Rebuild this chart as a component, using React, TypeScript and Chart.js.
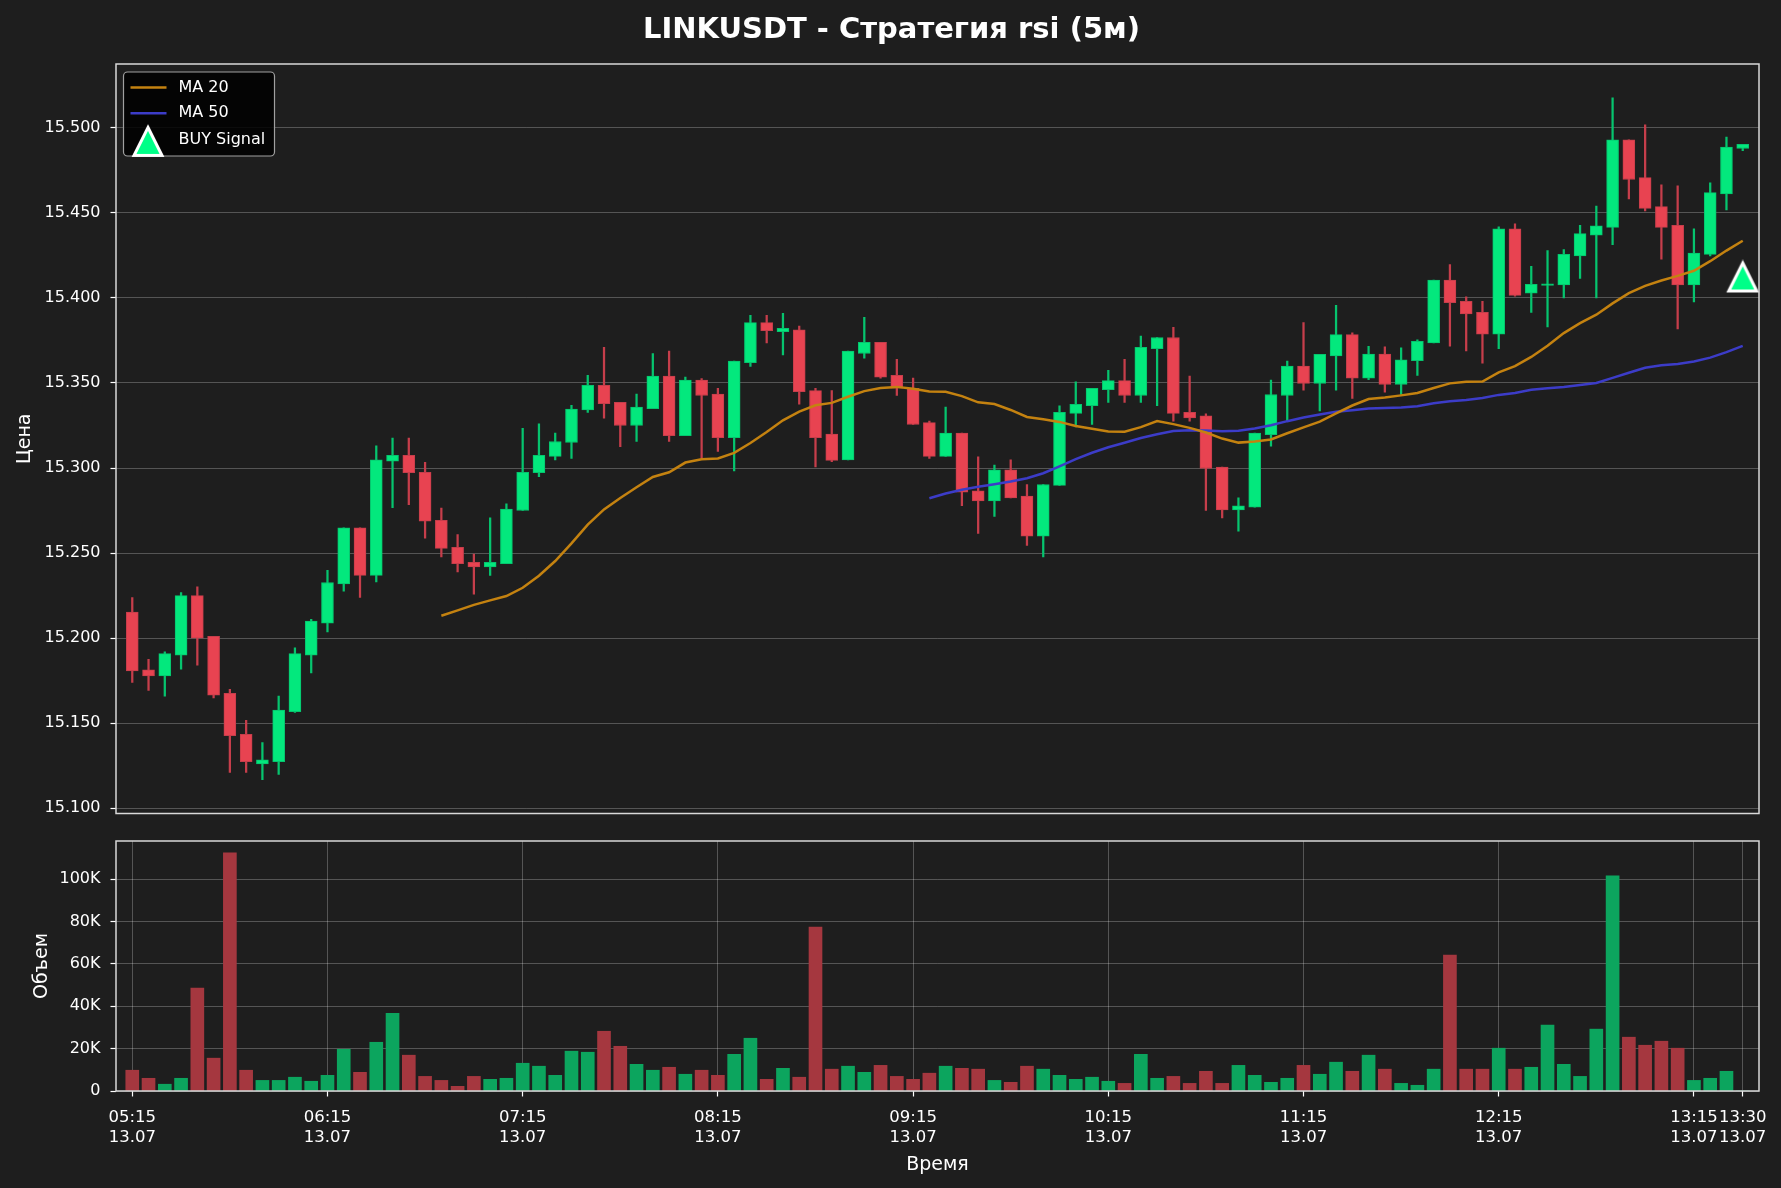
import React, { useEffect, useRef } from 'react';
import { Chart, registerables } from 'chart.js';

Chart.register(...registerables);

const FONT = "'DejaVu Sans', 'Liberation Sans', sans-serif";
const TITLE = 'LINKUSDT - Стратегия rsi (5м)';

// ---- data (5-minute candles, 05:15 .. 13:30) ----
const opens = [
  15.2153, 15.1813, 15.1778, 15.1900, 15.2250, 15.2011, 15.1676, 15.1435, 15.1261, 15.1273,
  15.1568, 15.1900, 15.2088, 15.2318, 15.2648, 15.2369, 15.3040, 15.3074, 15.2974, 15.2693,
  15.2534, 15.2446, 15.2418, 15.2438, 15.2750, 15.2972, 15.3068, 15.3150, 15.3341, 15.3486,
  15.3386, 15.3250, 15.3349, 15.3540, 15.3190, 15.3517, 15.3435, 15.3179, 15.3619, 15.3855,
  15.3801, 15.3813, 15.3455, 15.3199, 15.3048, 15.3673, 15.3739, 15.3545, 15.3469, 15.3267,
  15.3068, 15.3205, 15.2866, 15.2807, 15.2989, 15.2835, 15.2599, 15.2898, 15.3321, 15.3366,
  15.3460, 15.3514, 15.3426, 15.3702, 15.3767, 15.3327, 15.3307, 15.3006, 15.2753, 15.2770,
  15.3196, 15.3426, 15.3599, 15.3497, 15.3659, 15.3784, 15.3528, 15.3670, 15.3491, 15.3631,
  15.3736, 15.4105, 15.3980, 15.3915, 15.3787, 15.4406, 15.4028, 15.4074, 15.4077, 15.4247,
  15.4369, 15.4415, 15.4929, 15.4707, 15.4537, 15.4426, 15.4077, 15.4256, 15.4611, 15.4878,
];
const highs = [
  15.2239, 15.1875, 15.1920, 15.2267, 15.2301, 15.2011, 15.1699, 15.1517, 15.1386, 15.1659,
  15.1943, 15.2111, 15.2398, 15.2648, 15.2648, 15.3131, 15.3176, 15.3176, 15.3034, 15.2764,
  15.2608, 15.2494, 15.2707, 15.2790, 15.3233, 15.3259, 15.3205, 15.3369, 15.3545, 15.3710,
  15.3386, 15.3435, 15.3673, 15.3688, 15.3534, 15.3526, 15.3469, 15.3628, 15.3898, 15.3898,
  15.3909, 15.3835, 15.3469, 15.3455, 15.3688, 15.3886, 15.3739, 15.3639, 15.3528, 15.3276,
  15.3358, 15.3205, 15.3065, 15.3017, 15.3048, 15.2903, 15.2903, 15.3366, 15.3506, 15.3469,
  15.3574, 15.3639, 15.3776, 15.3767, 15.3827, 15.3540, 15.3318, 15.3006, 15.2824, 15.3205,
  15.3517, 15.3628, 15.3855, 15.3668, 15.3957, 15.3795, 15.3716, 15.3713, 15.3707, 15.3753,
  15.4105, 15.4196, 15.4006, 15.3980, 15.4418, 15.4435, 15.4185, 15.4278, 15.4284, 15.4426,
  15.4540, 15.5176, 15.4929, 15.5017, 15.4665, 15.4659, 15.4406, 15.4676, 15.4946, 15.4903,
];
const lows = [
  15.1739, 15.1693, 15.1659, 15.1818, 15.1841, 15.1648, 15.1210, 15.1210, 15.1168, 15.1199,
  15.1563, 15.1795, 15.2037, 15.2276, 15.2239, 15.2330, 15.2767, 15.2784, 15.2588, 15.2477,
  15.2389, 15.2259, 15.2369, 15.2438, 15.2750, 15.2949, 15.3048, 15.3057, 15.3327, 15.3293,
  15.3125, 15.3156, 15.3349, 15.3156, 15.3190, 15.3057, 15.3097, 15.2983, 15.3597, 15.3736,
  15.3665, 15.3375, 15.3006, 15.3037, 15.3048, 15.3645, 15.3528, 15.3426, 15.3256, 15.3057,
  15.3068, 15.2778, 15.2616, 15.2716, 15.2824, 15.2545, 15.2477, 15.2898, 15.3241, 15.3256,
  15.3386, 15.3386, 15.3386, 15.3366, 15.3276, 15.3276, 15.2750, 15.2707, 15.2628, 15.2770,
  15.3128, 15.3276, 15.3457, 15.3335, 15.3457, 15.3409, 15.3520, 15.3446, 15.3432, 15.3545,
  15.3736, 15.3716, 15.3688, 15.3616, 15.3702, 15.4010, 15.3915, 15.3830, 15.4000, 15.4114,
  15.4000, 15.4313, 15.4582, 15.4511, 15.4227, 15.3818, 15.3977, 15.4247, 15.4517, 15.4866,
];
const closes = [
  15.1807, 15.1778, 15.1909, 15.2250, 15.2000, 15.1665, 15.1426, 15.1273, 15.1284, 15.1577,
  15.1909, 15.2100, 15.2327, 15.2648, 15.2369, 15.3048, 15.3074, 15.2972, 15.2688, 15.2528,
  15.2438, 15.2418, 15.2446, 15.2759, 15.2974, 15.3074, 15.3156, 15.3347, 15.3486, 15.3378,
  15.3250, 15.3358, 15.3540, 15.3190, 15.3517, 15.3426, 15.3179, 15.3628, 15.3855, 15.3807,
  15.3821, 15.3449, 15.3179, 15.3045, 15.3688, 15.3739, 15.3534, 15.3469, 15.3256, 15.3068,
  15.3205, 15.2858, 15.2807, 15.2989, 15.2824, 15.2599, 15.2903, 15.3327, 15.3375, 15.3469,
  15.3514, 15.3426, 15.3710, 15.3767, 15.3321, 15.3295, 15.2997, 15.2753, 15.2778, 15.3205,
  15.3432, 15.3599, 15.3497, 15.3668, 15.3784, 15.3528, 15.3670, 15.3491, 15.3636, 15.3744,
  15.4105, 15.3972, 15.3906, 15.3787, 15.4406, 15.4015, 15.4080, 15.4082, 15.4256, 15.4378,
  15.4423, 15.4929, 15.4696, 15.4526, 15.4415, 15.4077, 15.4264, 15.4619, 15.4886, 15.4903,
];
const volumes = [
  9800, 6000, 3200, 6000, 48600, 15500, 112400, 9800, 5000, 5000,
  6500, 4600, 7400, 19700, 8800, 23000, 36700, 16900, 6900, 5000,
  2200, 6900, 5500, 6000, 13100, 11700, 7400, 18800, 18300, 28200,
  21100, 12600, 9800, 11200, 7900, 9800, 7400, 17300, 24900, 5500,
  10700, 6500, 77400, 10300, 11700, 8800, 12100, 6900, 5500, 8400,
  11700, 10700, 10300, 5000, 4100, 11700, 10300, 7400, 5500, 6500,
  4600, 3600, 17300, 6000, 6900, 3600, 9300, 3600, 12100, 7400,
  4100, 6000, 12100, 7900, 13600, 9300, 16900, 10300, 3600, 2700,
  10300, 64200, 10300, 10300, 20200, 10300, 11200, 31100, 12600, 6900,
  29200, 101600, 25400, 21600, 23500, 20200, 5000, 6000, 9300, 0,
];
const buySignalIndex = [99];
const buySignalPrice = [15.412];

const xTickIndex = [0, 12, 24, 36, 48, 60, 72, 84, 96, 99];
const xTickTimes = ['05:15', '06:15', '07:15', '08:15', '09:15', '10:15', '11:15', '12:15', '13:15', '13:30'];
const xTickDates = ['13.07', '13.07', '13.07', '13.07', '13.07', '13.07', '13.07', '13.07', '13.07', '13.07'];
const priceTicks = [15.1, 15.15, 15.2, 15.25, 15.3, 15.35, 15.4, 15.45, 15.5];
const volumeTicks = [0, 20000, 40000, 60000, 80000, 100000];
const volumeTickLabels = ['0', '20K', '40K', '60K', '80K', '100K'];
const MA_FAST = 20;
const MA_SLOW = 50;

// ---- styles ----
const BG = '#1e1e1e';
const UP_BODY = '#03e87d';
const DOWN_BODY = '#e84351';
const UP_WICK = '#06c46e';
const DOWN_WICK = '#c63e4b';
const UP_VOL = '#0ca55e';
const DOWN_VOL = '#a5373f';
const MA20_COLOR = '#c48210';
const MA50_COLOR = '#3c3cc8';
const BUY_COLOR = '#00ff88';
const GRID = 'rgba(255,255,255,0.28)';
const SPINE = '#d9d9d9';
const TEXT = '#ffffff';

// canvas placement on the page
const PRICE_CANVAS_H = 850;
const VOL_CANVAS_TOP = 800;
const VOL_CANVAS_H = 1188 - VOL_CANVAS_TOP;

function rollingMean(values: number[], period: number) {
  const out: { x: number; y: number }[] = [];
  for (let i = period - 1; i < values.length; i++) {
    let s = 0;
    for (let k = i - period + 1; k <= i; k++) s += values[k];
    out.push({ x: i, y: s / period });
  }
  return out;
}

function makeTriangle(): HTMLCanvasElement {
  const c = document.createElement('canvas');
  c.width = 36;
  c.height = 36;
  const g = c.getContext('2d')!;
  g.beginPath();
  g.moveTo(18, 3.5);
  g.lineTo(32, 31.5);
  g.lineTo(4, 31.5);
  g.closePath();
  g.fillStyle = BUY_COLOR;
  g.fill();
  g.lineWidth = 3;
  g.lineJoin = 'miter';
  g.strokeStyle = '#ffffff';
  g.stroke();
  return c;
}

const framePlugin = {
  id: 'frame',
  afterDatasetsDraw(chart: any) {
    const { ctx, chartArea } = chart;
    const { left, top, right, bottom } = chartArea;
    ctx.save();
    ctx.strokeStyle = SPINE;
    ctx.lineWidth = 1.5;
    ctx.strokeRect(left, top, right - left, bottom - top);
    ctx.restore();
  },
};

function makeDecorPlugin(tri: HTMLCanvasElement) {
  return {
    id: 'decor',
    afterDraw(chart: any) {
      const { ctx, chartArea } = chart;
      ctx.save();
      // title
      ctx.fillStyle = TEXT;
      ctx.font = `bold 29px ${FONT}`;
      ctx.textAlign = 'center';
      ctx.textBaseline = 'alphabetic';
      ctx.fillText(TITLE, 891.5, 38.3);
      // legend box
      const bx = chartArea.left + 7.5;
      const by = chartArea.top + 8;
      const bw = 151;
      const bh = 84;
      const r = 4;
      ctx.beginPath();
      ctx.moveTo(bx + r, by);
      ctx.lineTo(bx + bw - r, by);
      ctx.arcTo(bx + bw, by, bx + bw, by + r, r);
      ctx.lineTo(bx + bw, by + bh - r);
      ctx.arcTo(bx + bw, by + bh, bx + bw - r, by + bh, r);
      ctx.lineTo(bx + r, by + bh);
      ctx.arcTo(bx, by + bh, bx, by + bh - r, r);
      ctx.lineTo(bx, by + r);
      ctx.arcTo(bx, by, bx + r, by, r);
      ctx.closePath();
      ctx.fillStyle = 'rgba(0,0,0,0.85)';
      ctx.fill();
      ctx.strokeStyle = '#a0a0a0';
      ctx.lineWidth = 1.2;
      ctx.stroke();
      const rows = [by + 15.5, by + 41.2, by + 67.4];
      const handles = [MA20_COLOR, MA50_COLOR];
      handles.forEach((col, k) => {
        ctx.beginPath();
        ctx.moveTo(bx + 7, rows[k]);
        ctx.lineTo(bx + 43, rows[k]);
        ctx.strokeStyle = col;
        ctx.lineWidth = 2.5;
        ctx.stroke();
      });
      ctx.drawImage(tri, bx + 24.5 - tri.width / 2, rows[2] + 2.5 - tri.height / 2);
      ctx.fillStyle = TEXT;
      ctx.font = `16px ${FONT}`;
      ctx.textAlign = 'left';
      ctx.textBaseline = 'middle';
      const names = ['MA 20', 'MA 50', 'BUY Signal'];
      names.forEach((n, k) => ctx.fillText(n, bx + 55, rows[k]));
      ctx.restore();
    },
  };
}

// nudge the layout padding (in the config object itself) until the plot area sits where it should
function fitArea(chart: any, opts: any, top: number, bottom: number) {
  for (let k = 0; k < 5; k++) {
    const a = chart.chartArea;
    const dt = top - a.top;
    const db = a.bottom - bottom;
    if (Math.abs(dt) < 0.2 && Math.abs(db) < 0.2) break;
    const p = opts.layout.padding;
    p.top = Math.max(0, p.top + dt);
    p.bottom = Math.max(0, p.bottom + db);
    chart.update();
  }
}

export default function App() {
  const priceRef = useRef<HTMLCanvasElement>(null);
  const volRef = useRef<HTMLCanvasElement>(null);

  useEffect(() => {
    document.body.style.margin = '0';
    document.body.style.background = BG;
    const tri = makeTriangle();
    const idx = closes.map((_, i) => i);
    const up = idx.map((i) => closes[i] >= opens[i]);

    const priceOptions: any = {
      responsive: false,
      maintainAspectRatio: false,
      animation: false,
      devicePixelRatio: 1,
      events: [],
      layout: { padding: { top: 64, right: 22, bottom: PRICE_CANVAS_H - 813.5, left: 0 } },
      plugins: { legend: { display: false }, title: { display: false }, tooltip: { enabled: false } },
      scales: {
        x: { type: 'linear', min: -1, max: 100, offset: false, display: false, grid: { offset: false } },
        y: {
          type: 'linear',
          min: 15.0969,
          max: 15.5375,
          afterFit: (s: any) => { s.width = 116; },
          afterBuildTicks: (s: any) => { s.ticks = priceTicks.map((v) => ({ value: v })); },
          ticks: {
            color: TEXT,
            font: { family: FONT, size: 16 },
            padding: 10,
            callback: (v: any) => Number(v).toFixed(3),
          },
          grid: { color: GRID, lineWidth: 0.9, tickColor: TEXT, tickLength: 5.5, tickWidth: 1.2 },
          border: { display: false },
          title: {
            display: true,
            text: 'Цена',
            color: TEXT,
            font: { family: FONT, size: 19 },
            padding: { top: 13.6, bottom: 0 },
          },
        },
      },
    };

    const priceChart = new Chart(priceRef.current!, {
      type: 'bar',
      data: {
        datasets: [
          {
            type: 'line',
            label: 'BUY Signal',
            data: buySignalIndex.map((x, k) => ({ x, y: buySignalPrice[k] })),
            showLine: false,
            pointStyle: tri as any,
            pointRadius: 16,
            order: 0,
          } as any,
          {
            type: 'line',
            label: 'MA 20',
            data: rollingMean(closes, MA_FAST),
            borderColor: MA20_COLOR,
            borderWidth: 2.5,
            pointRadius: 0,
            tension: 0,
            order: 1,
          },
          {
            type: 'line',
            label: 'MA 50',
            data: rollingMean(closes, MA_SLOW),
            borderColor: MA50_COLOR,
            borderWidth: 2.5,
            pointRadius: 0,
            tension: 0,
            order: 2,
          },
          {
            type: 'bar',
            label: 'body',
            data: idx.map((i) => ({ x: i, y: [opens[i], closes[i]] })) as any,
            backgroundColor: idx.map((i) => (up[i] ? UP_BODY : DOWN_BODY)),
            borderColor: idx.map((i) => (up[i] ? UP_WICK : DOWN_WICK)),
            borderWidth: 1,
            borderSkipped: false,
            barThickness: 12,
            grouped: false,
            order: 3,
          } as any,
          {
            type: 'bar',
            label: 'wick',
            data: idx.map((i) => ({ x: i, y: [lows[i], highs[i]] })) as any,
            backgroundColor: idx.map((i) => (up[i] ? UP_WICK : DOWN_WICK)),
            borderWidth: 0,
            barThickness: 1.6,
            grouped: false,
            order: 4,
          } as any,
        ],
      },
      options: priceOptions,
      plugins: [framePlugin, makeDecorPlugin(tri)],
    });
    fitArea(priceChart, priceOptions, 64, 813.5);

    const volOptions: any = {
      responsive: false,
      maintainAspectRatio: false,
      animation: false,
      devicePixelRatio: 1,
      events: [],
      layout: { padding: { top: 841 - VOL_CANVAS_TOP, right: 22, bottom: 0, left: 0 } },
      plugins: { legend: { display: false }, title: { display: false }, tooltip: { enabled: false } },
      scales: {
        x: {
          type: 'linear',
          min: -1,
          max: 100,
          offset: false,
          afterFit: (s: any) => { s.height = 97; },
          afterBuildTicks: (s: any) => { s.ticks = xTickIndex.map((v) => ({ value: v })); },
          ticks: {
            color: TEXT,
            font: { family: FONT, size: 16.5, lineHeight: 1.23 },
            padding: 11,
            autoSkip: false,
            maxRotation: 0,
            minRotation: 0,
            callback: (_v: any, i: number) => [xTickTimes[i], xTickDates[i]],
          },
          grid: { offset: false, color: GRID, lineWidth: 0.9, tickColor: TEXT, tickLength: 5.5, tickWidth: 1.2 },
          border: { display: false },
          title: {
            display: true,
            text: 'Время',
            color: TEXT,
            font: { family: FONT, size: 19 },
            padding: { top: 0, bottom: 11.5 },
          },
        },
        y: {
          type: 'linear',
          min: 0,
          max: 118000,
          afterFit: (s: any) => { s.width = 116; },
          afterBuildTicks: (s: any) => { s.ticks = volumeTicks.map((v) => ({ value: v })); },
          ticks: {
            color: TEXT,
            font: { family: FONT, size: 16 },
            padding: 10,
            callback: (_v: any, i: number) => volumeTickLabels[i],
          },
          grid: { color: GRID, lineWidth: 0.9, tickColor: TEXT, tickLength: 5.5, tickWidth: 1.2 },
          border: { display: false },
          title: {
            display: true,
            text: 'Объем',
            color: TEXT,
            font: { family: FONT, size: 19 },
            padding: { top: 30.5, bottom: 0 },
          },
        },
      },
    };

    const volChart = new Chart(volRef.current!, {
      type: 'bar',
      data: {
        datasets: [
          {
            label: 'Volume',
            data: idx.map((i) => ({ x: i, y: volumes[i] })) as any,
            backgroundColor: idx.map((i) => (up[i] ? UP_VOL : DOWN_VOL)),
            borderWidth: 0,
            barThickness: 13,
            grouped: false,
          } as any,
        ],
      },
      options: volOptions,
      plugins: [framePlugin],
    });
    fitArea(volChart, volOptions, 841 - VOL_CANVAS_TOP, 1091 - VOL_CANVAS_TOP);

    return () => {
      priceChart.destroy();
      volChart.destroy();
    };
  }, []);

  return (
    <div style={{ position: 'relative', width: 1781, height: 1188, background: BG, overflow: 'hidden' }}>
      <canvas
        ref={priceRef}
        width={1781}
        height={PRICE_CANVAS_H}
        style={{ position: 'absolute', left: 0, top: 0, width: 1781, height: PRICE_CANVAS_H }}
      />
      <canvas
        ref={volRef}
        width={1781}
        height={VOL_CANVAS_H}
        style={{ position: 'absolute', left: 0, top: VOL_CANVAS_TOP, width: 1781, height: VOL_CANVAS_H }}
      />
    </div>
  );
}
